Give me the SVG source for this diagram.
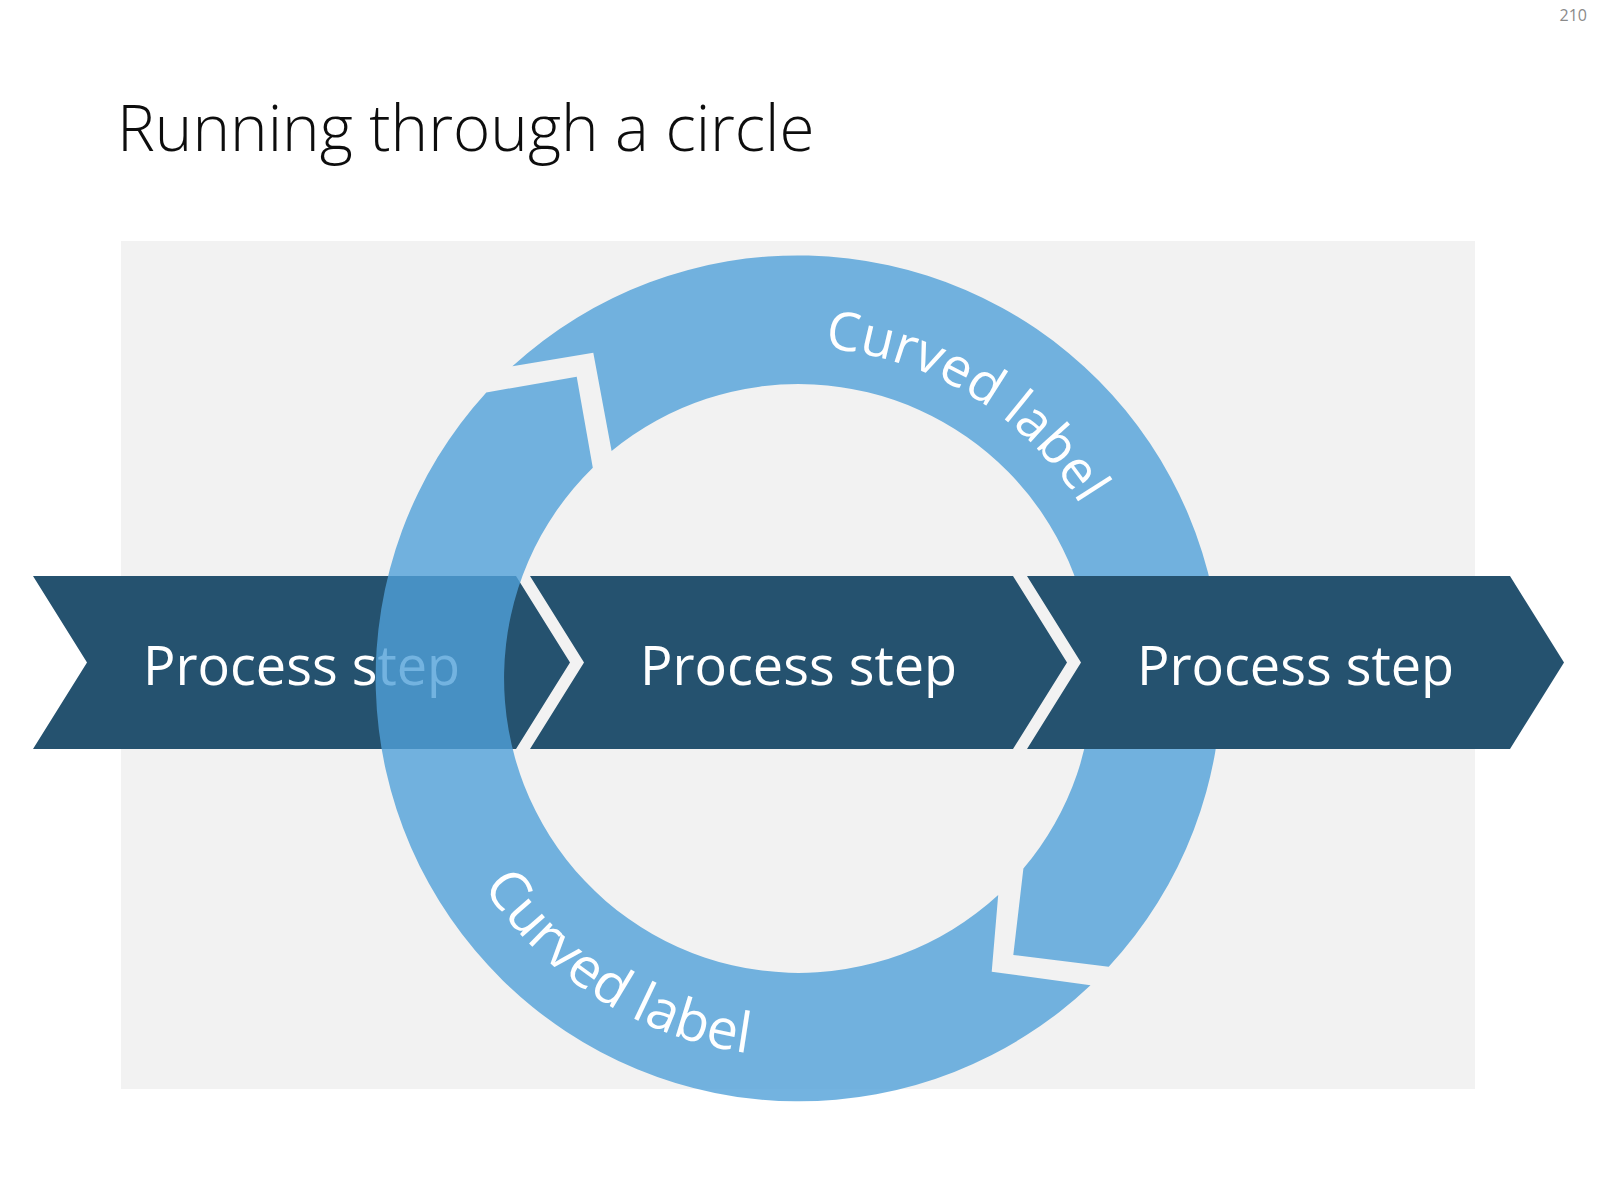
<svg xmlns="http://www.w3.org/2000/svg" width="1600" height="1203" viewBox="0 0 1600 1203">
  <style>
    .chev { fill: #25526f; }
    .step { font-family: "Open Sans", "Noto Sans", "Liberation Sans", sans-serif; font-size: 54px; fill: #ffffff; text-anchor: middle; }
    .ring { fill: #50a0d8; fill-opacity: 0.8; }
    .curved { font-family: "Open Sans", "Noto Sans", "Liberation Sans", sans-serif; font-size: 53.5px; fill: #ffffff; }
    .curved2 { font-family: "Open Sans", "Noto Sans", "Liberation Sans", sans-serif; font-size: 55.5px; fill: #ffffff; }
    .title { font-family: "Open Sans", "Noto Sans", "Liberation Sans", sans-serif; font-weight: 300; font-size: 63.7px; fill: #0d0d0d; }
    .pagenum { font-family: "Open Sans", "Liberation Sans", sans-serif; font-size: 16px; fill: #8a8a8a; text-anchor: end; }
  </style>
  <defs>
    <path id="arcTop" d="M 532.4 481.6 A 331 331 0 0 1 1094.7 826.2"/>
    <path id="arcBottom" d="M 464.8 501.0 A 378 378 0 0 0 1096.4 911.2"/>
  </defs>

  <rect x="0" y="0" width="1600" height="1203" fill="#ffffff"/>
  <text class="pagenum" x="1587" y="21">210</text>
  <text class="title" x="117" y="151">Running through a circle</text>
  <rect id="background" x="121" y="241" width="1354" height="848" fill="#f2f2f2"/>

  <g id="step1">
    <polygon class="chev" points="33,576 516,576 570,662.5 516,749 33,749 87,662.5"/>
    <text class="step" x="301.5" y="685">Process step</text>
  </g>

  <g id="connectors">
    <path id="arrowA" class="ring" d="M 512.4 366.3 A 423.5 423.5 0 0 1 1108.7 966.8 L 1013.3 955 L 1023.4 868.6 A 294.5 294.5 0 0 0 611.6 450.9 L 593.3 352.7 Z"/>
    <path id="arrowB" class="ring" d="M 1090.5 985.2 A 423.5 423.5 0 0 1 486.3 392.4 L 576.7 376.7 L 592.8 467.7 A 294.5 294.5 0 0 0 998.2 894.9 L 991.7 971.7 Z"/>
    <text class="curved"><textPath href="#arcTop" startOffset="50%" text-anchor="middle">Curved label</textPath></text>
    <text class="curved2"><textPath href="#arcBottom" startOffset="50.5%" text-anchor="middle">Curved label</textPath></text>
  </g>

  <g id="step2">
    <polygon class="chev" points="530,576 1013,576 1067,662.5 1013,749 530,749 584,662.5"/>
    <text class="step" x="798.5" y="685">Process step</text>
  </g>

  <g id="step3">
    <polygon class="chev" points="1027,576 1510,576 1564,662.5 1510,749 1027,749 1081,662.5"/>
    <text class="step" x="1295.5" y="685">Process step</text>
  </g>
</svg>
